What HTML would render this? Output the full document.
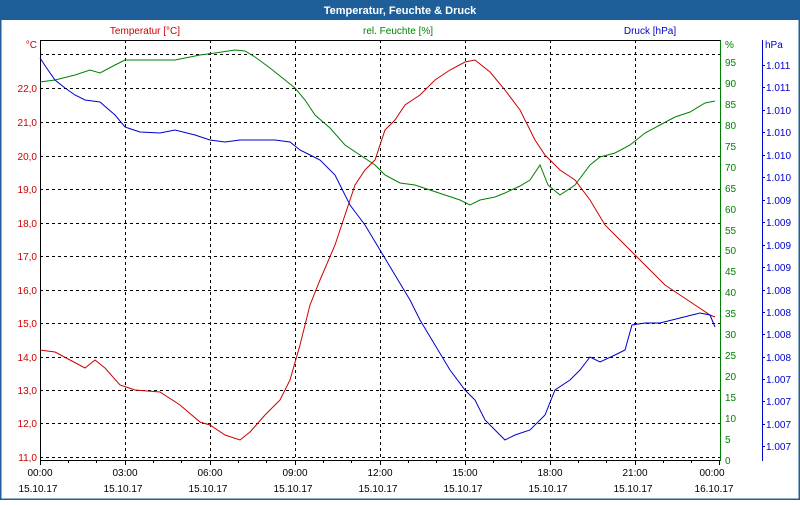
<!DOCTYPE html>
<html><head><meta charset="utf-8"><style>
body{margin:0;width:800px;height:500px;overflow:hidden;background:#fff;font-family:"Liberation Sans",sans-serif}
</style></head><body>
<svg width="800" height="500" xmlns="http://www.w3.org/2000/svg" font-family="Liberation Sans, sans-serif" font-size="10">
<rect x="0" y="0" width="800" height="500" fill="#fff"/>
<rect x="0.5" y="0.5" width="799" height="499" fill="none" stroke="#1f5f99" stroke-width="2"/>
<rect x="0" y="0" width="800" height="20" fill="#1f5f99"/>
<text x="400" y="14" fill="#fff" font-weight="bold" font-size="11" text-anchor="middle">Temperatur, Feuchte &amp; Druck</text>
<text x="145" y="34" fill="#cc0000" text-anchor="middle">Temperatur [°C]</text>
<text x="398" y="34" fill="#008000" text-anchor="middle">rel. Feuchte [%]</text>
<text x="650" y="34" fill="#0000cc" text-anchor="middle">Druck [hPa]</text>
<g stroke="#000" stroke-dasharray="3,3" stroke-width="1">
<line x1="40" x2="720" y1="54.5" y2="54.5"/><line x1="40" x2="720" y1="88.5" y2="88.5"/><line x1="40" x2="720" y1="122.5" y2="122.5"/><line x1="40" x2="720" y1="156.5" y2="156.5"/><line x1="40" x2="720" y1="189.5" y2="189.5"/><line x1="40" x2="720" y1="223.5" y2="223.5"/><line x1="40" x2="720" y1="256.5" y2="256.5"/><line x1="40" x2="720" y1="290.5" y2="290.5"/><line x1="40" x2="720" y1="323.5" y2="323.5"/><line x1="40" x2="720" y1="357.5" y2="357.5"/><line x1="40" x2="720" y1="390.5" y2="390.5"/><line x1="40" x2="720" y1="423.5" y2="423.5"/><line x1="40" x2="720" y1="457.5" y2="457.5"/>
<line y1="40" y2="460" x1="125.5" x2="125.5"/><line y1="40" y2="460" x1="210.5" x2="210.5"/><line y1="40" y2="460" x1="295.5" x2="295.5"/><line y1="40" y2="460" x1="380.5" x2="380.5"/><line y1="40" y2="460" x1="465.5" x2="465.5"/><line y1="40" y2="460" x1="550.5" x2="550.5"/><line y1="40" y2="460" x1="635.5" x2="635.5"/>
</g>
<line x1="40" x2="720" y1="40.5" y2="40.5" stroke="#000"/>
<line x1="40.5" x2="40.5" y1="40" y2="461" stroke="#000"/>
<line x1="40" x2="720" y1="460.5" y2="460.5" stroke="#000"/>
<line x1="720.5" x2="720.5" y1="40" y2="461" stroke="#008000"/>
<line x1="762.5" x2="762.5" y1="40" y2="461" stroke="#0000cc"/>
<g stroke="#000">
<path d="M40.5 460v5M68.5 460v3M96.5 460v3M125.5 460v5M153.5 460v3M181.5 460v3M210.5 460v5M238.5 460v3M266.5 460v3M295.5 460v5M323.5 460v3M351.5 460v3M380.5 460v5M408.5 460v3M436.5 460v3M465.5 460v5M493.5 460v3M521.5 460v3M550.5 460v5M578.5 460v3M606.5 460v3M635.5 460v5M663.5 460v3M691.5 460v3M719.5 460v5"/>
</g>
<g stroke="#0000cc">
<path d="M762 65.5h3M762 87.5h3M762 110.5h3M762 132.5h3M762 155.5h3M762 177.5h3M762 200.5h3M762 222.5h3M762 245.5h3M762 267.5h3M762 290.5h3M762 312.5h3M762 334.5h3M762 357.5h3M762 379.5h3M762 401.5h3M762 424.5h3M762 446.5h3"/>
</g>
<g fill="#cc0000" text-anchor="end">
<text x="37" y="48">°C</text>
<text x="37" y="92">22,0</text><text x="37" y="126">21,0</text><text x="37" y="160">20,0</text><text x="37" y="193">19,0</text><text x="37" y="227">18,0</text><text x="37" y="260">17,0</text><text x="37" y="294">16,0</text><text x="37" y="327">15,0</text><text x="37" y="361">14,0</text><text x="37" y="394">13,0</text><text x="37" y="427">12,0</text><text x="37" y="461">11,0</text>
</g>
<g fill="#008000">
<text x="725" y="48">%</text>
<text x="725" y="66">95</text><text x="725" y="87">90</text><text x="725" y="108">85</text><text x="725" y="129">80</text><text x="725" y="150">75</text><text x="725" y="171">70</text><text x="725" y="192">65</text><text x="725" y="213">60</text><text x="725" y="234">55</text><text x="725" y="254">50</text><text x="725" y="275">45</text><text x="725" y="296">40</text><text x="725" y="317">35</text><text x="725" y="338">30</text><text x="725" y="359">25</text><text x="725" y="380">20</text><text x="725" y="401">15</text><text x="725" y="422">10</text><text x="725" y="443">5</text><text x="725" y="464">0</text>
</g>
<g fill="#0000cc">
<text x="765" y="48">hPa</text>
<text x="766" y="69">1.011</text><text x="766" y="91">1.011</text><text x="766" y="114">1.010</text><text x="766" y="136">1.010</text><text x="766" y="159">1.010</text><text x="766" y="181">1.010</text><text x="766" y="204">1.009</text><text x="766" y="226">1.009</text><text x="766" y="249">1.009</text><text x="766" y="271">1.009</text><text x="766" y="294">1.008</text><text x="766" y="316">1.008</text><text x="766" y="338">1.008</text><text x="766" y="361">1.008</text><text x="766" y="383">1.007</text><text x="766" y="405">1.007</text><text x="766" y="428">1.007</text><text x="766" y="450">1.007</text>
</g>
<g fill="#000" text-anchor="middle">
<text x="40" y="476">00:00</text><text x="125" y="476">03:00</text><text x="210" y="476">06:00</text><text x="295" y="476">09:00</text><text x="380" y="476">12:00</text><text x="465" y="476">15:00</text><text x="550" y="476">18:00</text><text x="635" y="476">21:00</text><text x="712" y="476">00:00</text>
<text x="38" y="492">15.10.17</text><text x="123" y="492">15.10.17</text><text x="208" y="492">15.10.17</text><text x="293" y="492">15.10.17</text><text x="378" y="492">15.10.17</text><text x="463" y="492">15.10.17</text><text x="548" y="492">15.10.17</text><text x="633" y="492">15.10.17</text><text x="714" y="492">16.10.17</text>
</g>
<polyline fill="none" stroke="#008000" points="40,82 55,80 75,75 90,70 100,73 115,65 125,60 150,60 175,60 200,55 215,53 235,50 245,51 255,57 270,68 285,80 295,88 305,100 315,115 330,128 345,145 360,155 375,165 385,175 400,183 415,185 430,190 445,195 460,200 470,205 480,200 495,197 505,193 520,186 530,180 540,165 548,185 560,195 575,185 590,165 600,157 615,153 630,145 645,133 660,125 675,117 690,112 705,103 715,101"/>
<polyline fill="none" stroke="#cc0000" points="40,350 55,352 70,360 85,368 95,360 105,368 120,385 135,390 160,392 180,405 200,422 210,425 225,435 240,440 250,432 265,415 280,400 290,380 300,345 310,305 320,280 335,245 345,215 355,185 365,170 375,160 385,130 395,120 405,105 420,95 435,80 450,70 465,62 475,60 490,72 505,90 520,110 535,140 545,155 560,170 575,180 590,200 605,225 620,240 635,255 650,270 665,285 680,295 695,305 710,315 715,317"/>
<polyline fill="none" stroke="#0000cc" points="40,58 48,70 55,80 65,88 75,95 85,100 100,102 115,115 125,127 140,132 160,133 175,130 195,135 210,140 225,142 240,140 255,140 275,140 290,142 300,150 310,155 320,160 335,175 350,205 365,225 380,250 395,275 410,300 420,320 435,345 450,370 465,390 475,400 485,420 495,430 505,440 515,435 530,430 545,415 555,390 570,380 580,370 590,357 600,362 615,355 625,350 632,325 645,323 660,323 680,318 700,313 710,315 715,327"/>
</svg>
</body></html>
